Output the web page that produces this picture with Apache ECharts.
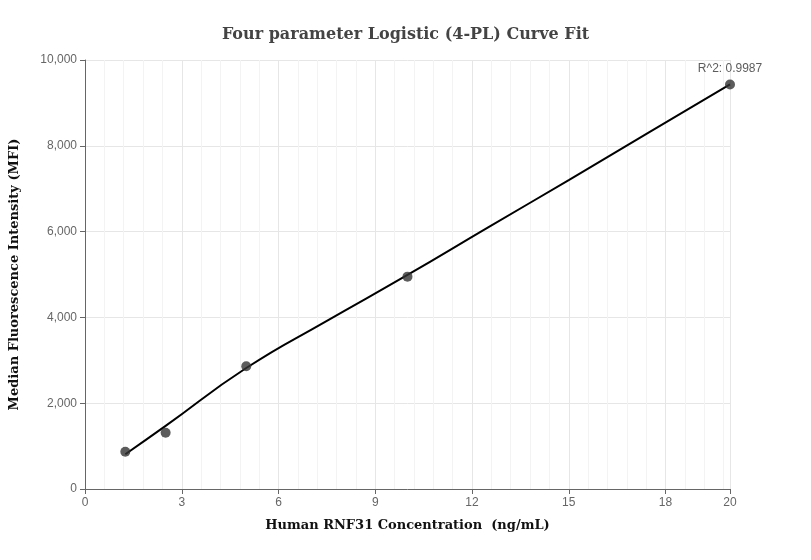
<!DOCTYPE html>
<html><head><meta charset="utf-8">
<script src="https://cdn.jsdelivr.net/npm/echarts@6/dist/echarts.min.js"></script>
<style>html,body{margin:0;padding:0;background:#fff}#c{width:811px;height:560px}</style>
</head><body><div id="c"></div>
<script>
const pointX = [1.25, 2.5, 5, 10, 20];
const pointY = [870, 1310, 2860, 4950, 9430];
const fitX = [1.25, 2.5, 5, 7.5, 10, 12.5, 15, 17.5, 20];
const fitY = [810, 1470, 2820, 3920, 4990, 6100, 7200, 8320, 9430];
const r2Label = 'R^2: 0.9987';
const chart = echarts.init(document.getElementById('c'));
chart.setOption({
  animation: false,
  title: { text: 'Four parameter Logistic (4-PL) Curve Fit', left: 'center', top: 22,
    textStyle: { fontFamily: 'DejaVu Serif', fontSize: 16, fontWeight: 'bold', color: '#444' } },
  grid: { left: 80, right: 81, top: 60, bottom: 71 },
  xAxis: { type: 'value', min: 0, max: 20, interval: 3,
    name: 'Human RNF31 Concentration  (ng/mL)', nameLocation: 'middle', nameGap: 30,
    nameTextStyle: { fontFamily: 'DejaVu Serif', fontWeight: 'bold', fontSize: 13, color: '#111' },
    axisLine: { lineStyle: { color: '#666' } }, axisTick: { show: true, lineStyle: { color: '#666' } },
    axisLabel: { color: '#666', fontSize: 12, showMaxLabel: true },
    splitLine: { show: true, lineStyle: { color: '#e6e6e6' } },
    minorTick: { show: false, splitNumber: 5 },
    minorSplitLine: { show: true, lineStyle: { color: '#f3f3f3' } } },
  yAxis: { type: 'value', min: 0, max: 10000, interval: 2000,
    name: 'Median Fluorescence Intensity (MFI)', nameLocation: 'middle', nameGap: 64,
    nameTextStyle: { fontFamily: 'DejaVu Serif', fontWeight: 'bold', fontSize: 13, color: '#111' },
    axisLine: { show: true, lineStyle: { color: '#666' } }, axisTick: { show: true, lineStyle: { color: '#666' } },
    axisLabel: { color: '#666', fontSize: 12, formatter: v => v.toLocaleString('en-US') },
    splitLine: { show: true, lineStyle: { color: '#e6e6e6' } } },
  series: [
    { type: 'line', data: fitX.map((x, i) => [x, fitY[i]]), smooth: true, showSymbol: false,
      lineStyle: { color: '#000', width: 2 }, z: 2 },
    { type: 'scatter', data: pointX.map((x, i) => [x, pointY[i]]), symbolSize: 10,
      itemStyle: { color: '#333' }, z: 3,
      label: { show: true, position: 'top', color: '#333', fontSize: 12,
        formatter: p => p.dataIndex === pointX.length - 1 ? r2Label : '' } }
  ]
});
</script></body></html>
